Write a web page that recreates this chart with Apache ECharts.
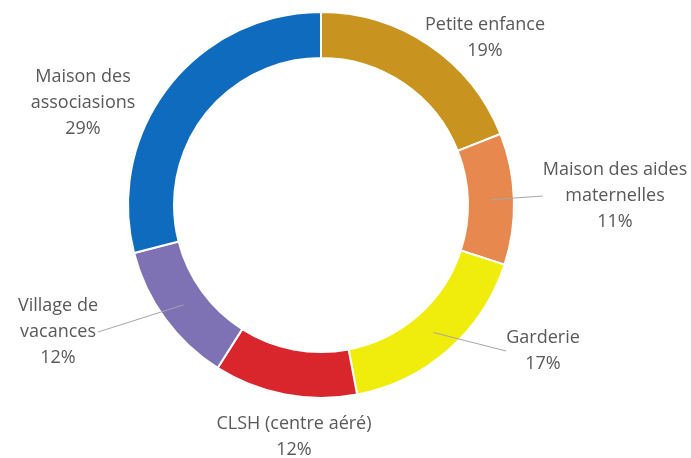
<!DOCTYPE html>
<html>
<head>
<meta charset="utf-8">
<script src="https://cdn.jsdelivr.net/npm/echarts@6/dist/echarts.min.js"></script>
<style>
  html, body { margin: 0; padding: 0; background: #fff; }
  #chart { width: 691px; height: 458px; }
</style>
</head>
<body>
<div id="chart"></div>
<script>
// categories, clockwise from 12 o'clock
const categories = [
  'Petite enfance',
  'Maison des aides\nmaternelles',
  'Garderie',
  'CLSH (centre aéré)',
  'Village de\nvacances',
  'Maison des\nassociasions'
]
const shares = [19, 11, 17, 12, 12, 29]
const colors = ['#C8931F', '#E7884F', '#F0EC0C', '#D8262C', '#7F72B4', '#0F6BBE']
// which labels get a leader line
const showLine = [false, true, true, false, true, false]
// label block centres (x, y) in px
const labelPos = [
  [485, 38], [615, 196], [543, 351], [294, 437], [58, 332], [83, 103]
]

const chart = echarts.init(document.getElementById('chart'))

const ringData = categories.map((name, i) => ({
  name: name,
  value: shares[i],
  itemStyle: { color: colors[i] }
}))

const labelData = categories.map((name, i) => ({
  name: name,
  value: shares[i],
  labelLine: { show: showLine[i] }
}))

chart.setOption({
  animation: false,
  series: [
    {
      type: 'pie',
      center: [321, 205],
      radius: [147, 193],
      startAngle: 90,
      clockwise: true,
      silent: true,
      label: { show: false },
      labelLine: { show: false },
      itemStyle: { borderColor: '#fff', borderWidth: 2 },
      data: ringData
    },
    {
      // invisible helper so leader lines start in the middle of the ring
      type: 'pie',
      center: [321, 205],
      radius: [0, 170],
      startAngle: 90,
      clockwise: true,
      silent: true,
      z: 5,
      itemStyle: { color: 'transparent' },
      label: {
        show: true,
        formatter: '{b}\n{c}%',
        fontFamily: 'Open Sans',
        fontSize: 18,
        lineHeight: 26,
        color: '#595959',
        align: 'center'
      },
      labelLine: {
        show: true,
        length2: 0,
        lineStyle: { color: '#A6A6A6', width: 1 }
      },
      labelLayout: function (params) {
        const p = labelPos[params.dataIndex]
        return { x: p[0], y: p[1], align: 'center', verticalAlign: 'middle' }
      },
      data: labelData
    }
  ]
})
</script>
</body>
</html>
